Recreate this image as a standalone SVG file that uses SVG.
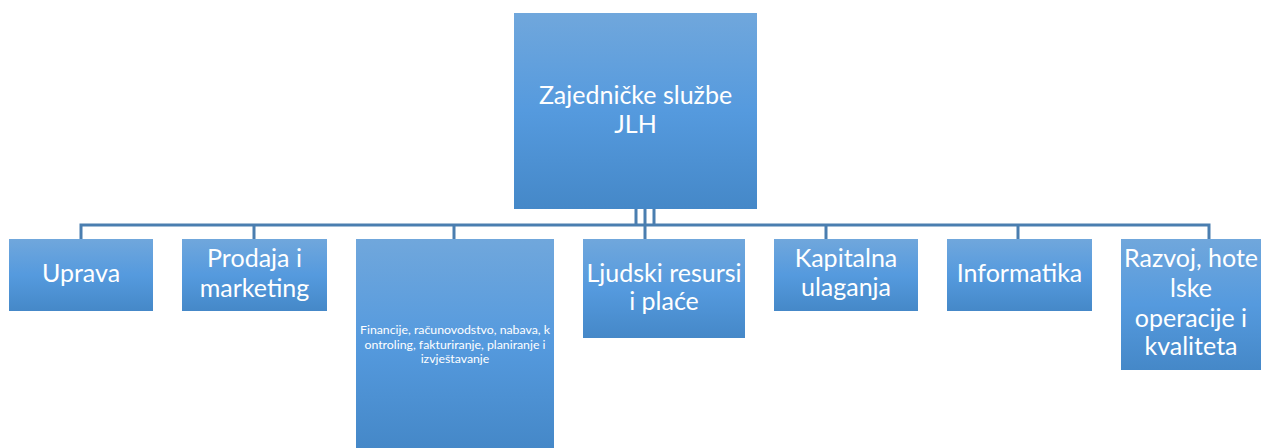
<svg xmlns="http://www.w3.org/2000/svg" width="1270" height="448" viewBox="0 0 1270 448">
<defs>
<linearGradient id="g" x1="0" y1="0" x2="0" y2="1">
<stop offset="0" stop-color="#70a7dc"/>
<stop offset="0.5" stop-color="#559ade"/>
<stop offset="1" stop-color="#4588c8"/>
</linearGradient>
<style>
.box{fill:url(#g);}
.t{font-family:Lato,"Open Sans",sans-serif;fill:#ffffff;text-anchor:middle;font-size:25px;}
.s{font-size:12.3px;}
.c{stroke:#4a7eb0;stroke-width:3;fill:none;}
</style>
</defs>
<g id="connectors">
<path class="c" d="M636 209V225M645 209V225M654 209V225"/>
<path class="c" d="M81 239V225H1209V239"/>
<path class="c" d="M254 225V239M454 225V239M645 225V239M826 225V239M1018 225V239"/>
</g>
<g id="root">
<rect class="box" x="514" y="13" width="243" height="196"/>
<text class="t" x="635.5" y="104">Zajedničke službe</text>
<text class="t" x="635.5" y="133">JLH</text>
</g>
<g id="uprava">
<rect class="box" x="9" y="239" width="144" height="72"/>
<text class="t" x="81" y="282">Uprava</text>
</g>
<g id="prodaja">
<rect class="box" x="182" y="239" width="145" height="72"/>
<text class="t" x="254.5" y="267">Prodaja i</text>
<text class="t" x="254.5" y="297">marketing</text>
</g>
<g id="financije">
<rect class="box" x="356" y="239" width="198" height="209"/>
<text class="t s" x="455" y="334">Financije, računovodstvo, nabava, k</text>
<text class="t s" x="455" y="349">ontroling, fakturiranje, planiranje i</text>
<text class="t s" x="455" y="363">izvještavanje</text>
</g>
<g id="ljudski">
<rect class="box" x="583" y="239" width="162" height="99"/>
<text class="t" x="664" y="282">Ljudski resursi</text>
<text class="t" x="664" y="310">i plaće</text>
</g>
<g id="kapitalna">
<rect class="box" x="774" y="239" width="144" height="72"/>
<text class="t" x="846" y="267">Kapitalna</text>
<text class="t" x="846" y="296">ulaganja</text>
</g>
<g id="informatika">
<rect class="box" x="947" y="239" width="145" height="72"/>
<text class="t" x="1019.5" y="282">Informatika</text>
</g>
<g id="razvoj">
<rect class="box" x="1121" y="239" width="140" height="131"/>
<text class="t" x="1191" y="267">Razvoj, hote</text>
<text class="t" x="1191" y="297">lske</text>
<text class="t" x="1191" y="327">operacije i</text>
<text class="t" x="1191" y="355">kvaliteta</text>
</g>
</svg>
